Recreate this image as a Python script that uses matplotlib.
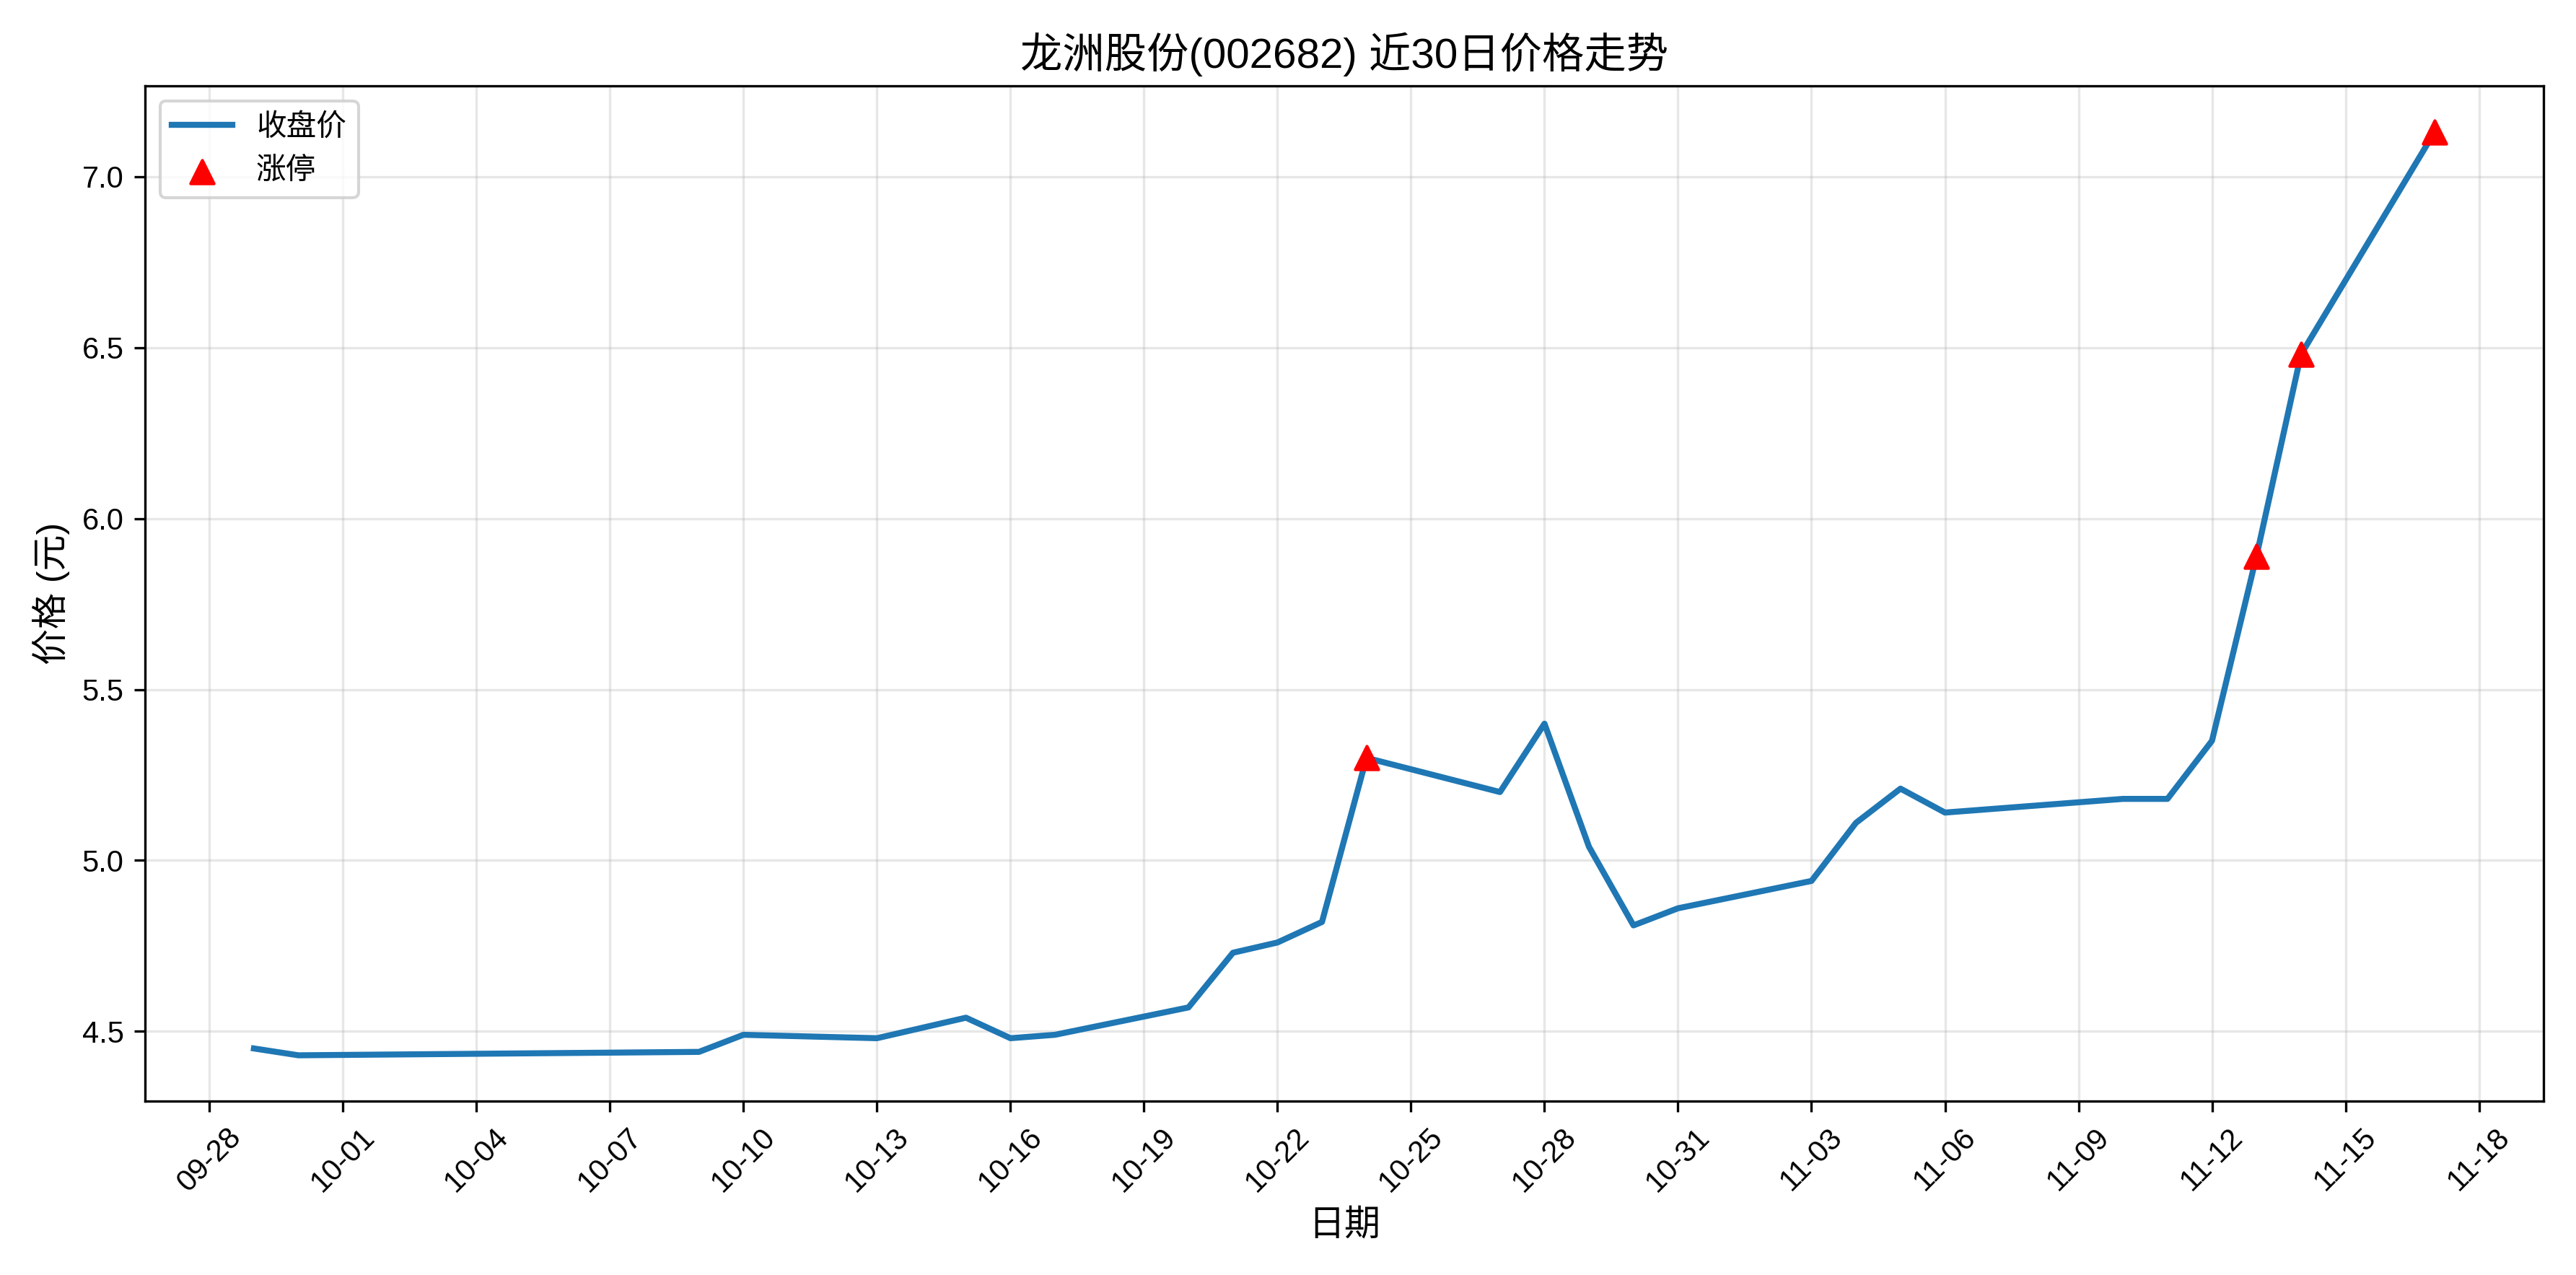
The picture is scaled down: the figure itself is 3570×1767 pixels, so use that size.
import matplotlib
matplotlib.use("Agg")
import matplotlib.pyplot as plt
import matplotlib.dates as mdates
import pandas as pd

plt.rcParams['font.family'] = ['Liberation Sans', 'Noto Sans CJK SC', 'DejaVu Sans']
plt.rcParams['axes.unicode_minus'] = False

# 数据
dates = ['09-29', '09-30', '10-09', '10-10', '10-13', '10-15', '10-16', '10-17',
         '10-20', '10-21', '10-22', '10-23', '10-24', '10-27', '10-28', '10-29',
         '10-30', '10-31', '11-03', '11-04', '11-05', '11-06', '11-10', '11-11',
         '11-12', '11-13', '11-14', '11-17']
close = [4.45, 4.43, 4.44, 4.49, 4.48, 4.54, 4.48, 4.49,
         4.57, 4.73, 4.76, 4.82, 5.30, 5.20, 5.40, 5.04,
         4.81, 4.86, 4.94, 5.11, 5.21, 5.14, 5.18, 5.18,
         5.35, 5.89, 6.48, 7.13]
limit_up_dates = ['10-24', '11-13', '11-14', '11-17']

x = pd.to_datetime(['2025-' + d for d in dates])
close_map = dict(zip(dates, close))
lx = pd.to_datetime(['2025-' + d for d in limit_up_dates])
ly = [close_map[d] for d in limit_up_dates]

fig, ax = plt.subplots(figsize=(11.9, 5.89), dpi=300)
ax.plot(x, close, color='#1f77b4', linewidth=2, label='收盘价')
ax.scatter(lx, ly, marker='^', color='red', s=60, zorder=5, label='涨停')

ax.set_title('龙洲股份(002682) 近30日价格走势', fontsize=14)
ax.set_xlabel('日期', fontsize=12)
ax.set_ylabel('价格 (元)', fontsize=12)
ax.set_xticks(pd.date_range('2025-09-28', periods=18, freq='3D'))
ax.xaxis.set_major_formatter(mdates.DateFormatter('%m-%d'))
plt.setp(ax.get_xticklabels(), rotation=45)
ax.grid(True, alpha=0.3)
ax.legend(loc='upper left')
plt.tight_layout()
plt.savefig('out.png')
